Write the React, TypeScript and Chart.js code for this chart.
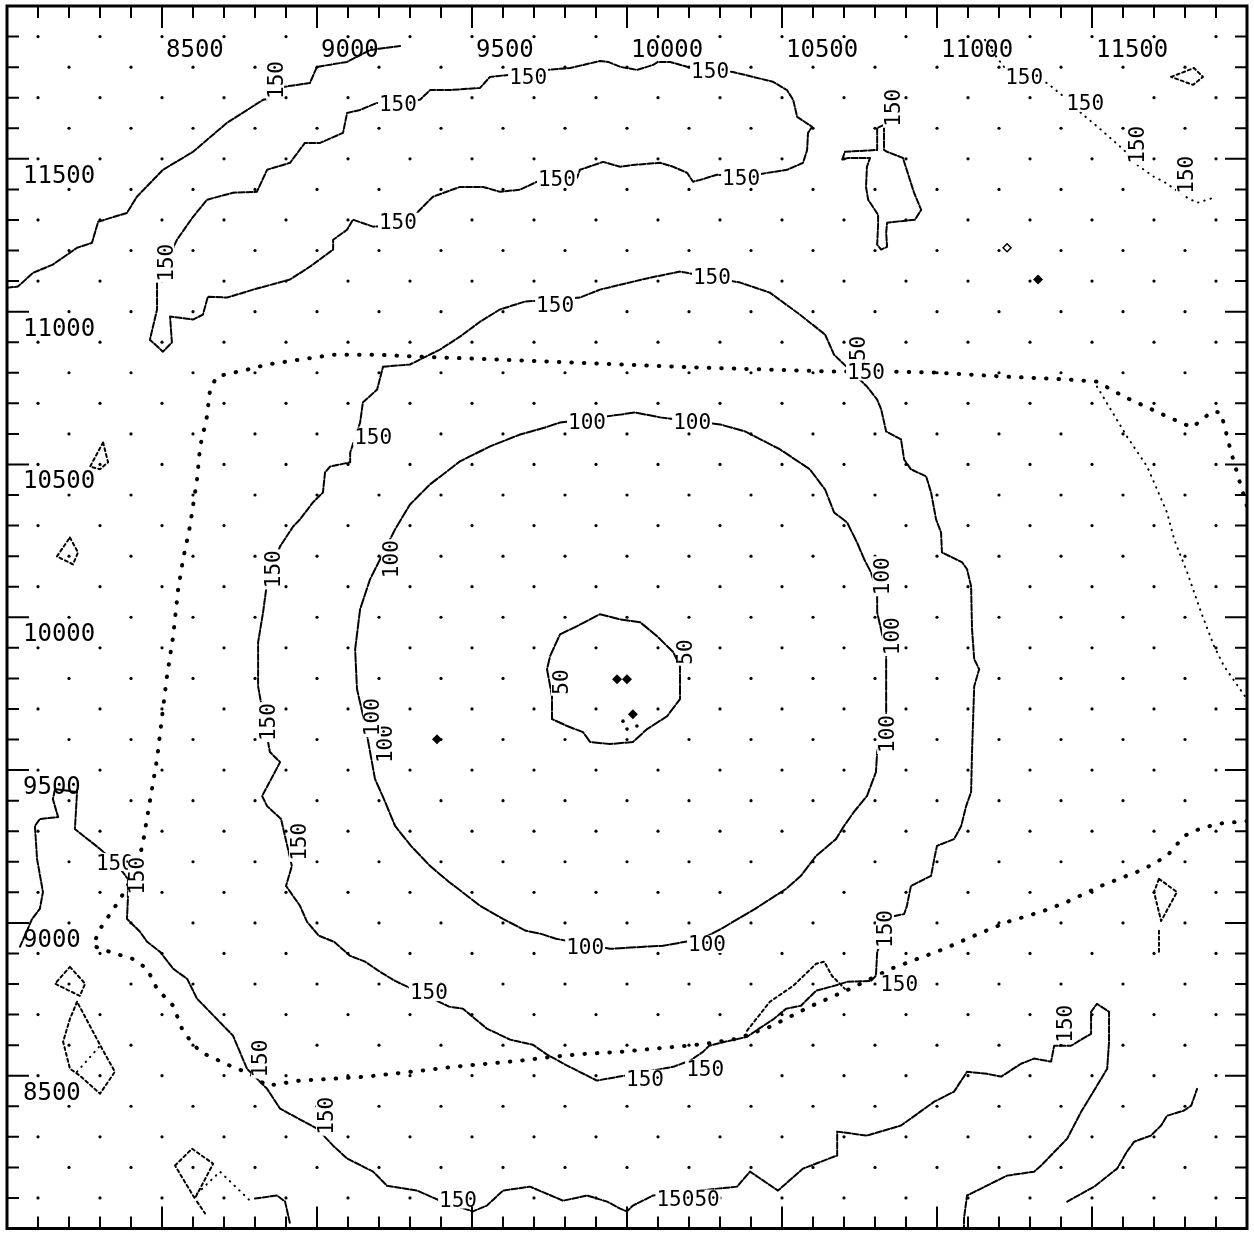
import React, { useEffect, useRef } from "react";
import { Chart, registerables } from "chart.js";

Chart.register(...registerables);

// ---------- axes ----------
const axisMin = 8000;
const axisMax = 12000;
const gridValues = [
  8100, 8200, 8300, 8400, 8500, 8600, 8700, 8800, 8900, 9000, 9100, 9200, 9300,
  9400, 9500, 9600, 9700, 9800, 9900, 10000, 10100, 10200, 10300, 10400, 10500,
  10600, 10700, 10800, 10900, 11000, 11100, 11200, 11300, 11400, 11500, 11600,
  11700, 11800, 11900,
];
const xTickLabels = [8500, 9000, 9500, 10000, 10500, 11000, 11500];
const yTickLabels = [11500, 11000, 10500, 10000, 9500, 9000, 8500];

// ---------- contour lines (x, y in axis units) ----------
const contour150NW = [
  [8000, 11078], [8035, 11082], [8084, 11127], [8148, 11154], [8226, 11209], [8274, 11225],
  [8294, 11294], [8387, 11323], [8419, 11376], [8503, 11464], [8600, 11523], [8710, 11618],
  [8826, 11693], [8858, 11699], [8890, 11735], [8977, 11748], [9000, 11801], [9097, 11817],
  [9171, 11856], [9268, 11869],
];
const contour150Ridge = [
  [8484, 11095], [8484, 11007], [8461, 10908], [8503, 10869], [8532, 10899], [8526, 10984],
  [8558, 10980], [8600, 10974], [8632, 10990], [8648, 11049], [8710, 11046], [8794, 11072],
  [8913, 11105], [8977, 11147], [9052, 11203], [9052, 11235], [9097, 11268], [9116, 11301],
  [9181, 11278], [9300, 11288], [9323, 11324], [9374, 11376], [9461, 11408], [9536, 11408],
  [9590, 11392], [9655, 11399], [9710, 11425], [9839, 11438], [9848, 11464], [9923, 11490],
  [9978, 11474], [10019, 11480], [10107, 11487], [10149, 11474], [10194, 11454], [10213, 11425],
  [10236, 11431], [10290, 11448], [10368, 11438], [10452, 11454], [10516, 11464], [10568, 11487],
  [10581, 11529], [10584, 11585], [10597, 11605], [10549, 11637], [10536, 11693], [10516, 11725],
  [10471, 11752], [10407, 11768], [10342, 11784], [10268, 11791], [10194, 11801], [10139, 11817],
  [10100, 11817], [10084, 11807], [10032, 11791], [9978, 11801], [9939, 11817], [9913, 11820],
  [9816, 11797], [9742, 11791], [9623, 11775], [9558, 11768], [9526, 11732], [9429, 11725],
  [9365, 11725], [9332, 11693], [9194, 11683], [9139, 11660], [9097, 11650], [9084, 11585],
  [9010, 11552], [8961, 11552], [8913, 11487], [8839, 11464], [8806, 11392], [8729, 11389],
  [8645, 11366], [8600, 11310], [8548, 11235], [8526, 11186], [8503, 11154], [8484, 11095],
];
const contour150NE = [
  [11155, 11889], [11194, 11830], [11216, 11801], [11355, 11748], [11410, 11703], [11465, 11650],
  [11529, 11595], [11603, 11529], [11636, 11487], [11700, 11441], [11732, 11425], [11807, 11373],
  [11839, 11356], [11894, 11373],
];
const contour150Tri = [[11755, 11768], [11829, 11797], [11858, 11768], [11826, 11742], [11755, 11768]];
const contour150Cross = [
  [10829, 11611], [10807, 11601], [10807, 11529], [10703, 11523], [10694, 11497], [10713, 11503],
  [10784, 11503], [10774, 11474], [10771, 11408], [10778, 11366], [10810, 11317], [10810, 11284],
  [10807, 11219], [10820, 11203], [10839, 11212], [10836, 11258], [10839, 11291], [10929, 11301],
  [10949, 11333], [10926, 11389], [10890, 11503], [10839, 11523], [10829, 11529], [10829, 11611],
];
const ring150 = [
  [9213, 10820], [9300, 10827], [9397, 10876], [9461, 10918], [9526, 10967], [9590, 11007],
  [9671, 11033], [9848, 11046], [9913, 11072], [9978, 11088], [10074, 11111], [10171, 11131],
  [10365, 11095], [10461, 11062], [10558, 10990], [10639, 10925], [10668, 10859], [10774, 10755],
  [10807, 10712], [10820, 10680], [10836, 10608], [10884, 10582], [10894, 10516], [10916, 10484],
  [10965, 10461], [10981, 10408], [10997, 10320], [11013, 10278], [11016, 10212], [11081, 10180],
  [11097, 10157], [11110, 10101], [11113, 9961], [11120, 9863], [11136, 9830], [11120, 9774],
  [11113, 9559], [11110, 9428], [11094, 9382], [11078, 9317], [11055, 9274], [11000, 9252],
  [10991, 9209], [10981, 9154], [10916, 9121], [10903, 9056], [10894, 9029], [10852, 9020],
  [10807, 8905], [10803, 8827], [10787, 8810], [10710, 8807], [10668, 8794], [10610, 8778],
  [10561, 8729], [10513, 8719], [10474, 8686], [10426, 8654], [10387, 8627], [10316, 8611],
  [10265, 8598], [10245, 8578], [10203, 8549], [10149, 8529], [9903, 8484], [9807, 8533],
  [9742, 8569], [9697, 8601], [9623, 8618], [9548, 8654], [9471, 8719], [9426, 8726],
  [9252, 8810], [9203, 8840], [9155, 8873], [9107, 8892], [9055, 8938], [9006, 8958],
  [8968, 9003], [8945, 9056], [8900, 9121], [8919, 9186], [8884, 9340], [8839, 9382],
  [8823, 9415], [8881, 9526], [8848, 9559], [8810, 9774], [8810, 9918], [8826, 10016],
  [8839, 10114], [8881, 10232], [8923, 10297], [8945, 10320], [8987, 10376], [9019, 10408],
  [9026, 10474], [9042, 10493], [9107, 10507], [9107, 10539], [9139, 10637], [9148, 10703],
  [9194, 10745], [9213, 10820],
];
const ring100 = [
  [9784, 10637], [9978, 10663], [10026, 10670], [10107, 10654], [10300, 10631], [10381, 10608],
  [10494, 10549], [10590, 10484], [10639, 10418], [10668, 10343], [10710, 10310], [10742, 10245],
  [10765, 10190], [10787, 10147], [10807, 10082], [10807, 10016], [10836, 9886], [10836, 9676],
  [10807, 9559], [10803, 9493], [10774, 9415], [10732, 9363], [10700, 9317], [10674, 9274],
  [10610, 9219], [10561, 9154], [10513, 9111], [10413, 9046], [10303, 8980], [10242, 8948],
  [10116, 8925], [10055, 8922], [9945, 8915], [9771, 8948], [9723, 8964], [9674, 8974],
  [9600, 9013], [9526, 9056], [9426, 9134], [9365, 9186], [9303, 9252], [9252, 9317],
  [9216, 9405], [9187, 9471], [9155, 9650], [9129, 9765], [9123, 9895], [9139, 10026],
  [9171, 10124], [9252, 10288], [9300, 10369], [9365, 10435], [9461, 10510], [9558, 10559],
  [9655, 10598], [9736, 10621], [9784, 10637],
];
const ring50 = [
  [9784, 9944], [9839, 9971], [9913, 10010], [9978, 9993], [10042, 9984], [10097, 9938],
  [10149, 9886], [10171, 9840], [10171, 9732], [10129, 9676], [10065, 9634], [10019, 9592],
  [9945, 9585], [9881, 9592], [9858, 9624], [9807, 9644], [9758, 9667], [9758, 9742],
  [9742, 9830], [9752, 9873], [9784, 9944],
];
const contour150South = [
  [8042, 8922], [8081, 9013], [8106, 9046], [8116, 9101], [8097, 9209], [8090, 9317],
  [8106, 9340], [8165, 9346], [8148, 9405], [8155, 9438], [8226, 9428], [8219, 9307],
  [8300, 9242], [8348, 9199], [8390, 9144], [8390, 9078], [8387, 9013], [8429, 8971],
  [8452, 8938], [8494, 8905], [8536, 8850], [8581, 8817], [8613, 8752], [8729, 8631],
  [8774, 8523], [8839, 8457], [8881, 8392], [9000, 8327], [9052, 8271], [9097, 8229],
  [9181, 8186], [9226, 8140], [9323, 8124], [9397, 8091], [9503, 8056], [9548, 8075],
  [9600, 8124], [9687, 8137], [9794, 8091], [9871, 8108], [9936, 8088], [9978, 8065],
  [10000, 8056], [10019, 8075], [10084, 8108], [10355, 8137], [10397, 8186], [10487, 8124],
  [10568, 8196], [10678, 8239], [10678, 8317], [10774, 8304], [10884, 8337], [10991, 8415],
  [11055, 8448], [11097, 8513], [11161, 8506], [11207, 8497], [11271, 8539], [11313, 8556],
  [11368, 8546], [11378, 8598], [11432, 8598], [11497, 8637], [11497, 8709], [11516, 8735],
  [11555, 8709], [11555, 8611], [11549, 8523], [11516, 8467], [11465, 8382], [11420, 8294],
  [11336, 8206], [11313, 8186], [11226, 8173], [11097, 8108], [11087, 8033], [11087, 8000],
];
const contour150SE = [
  [11420, 8088], [11507, 8137], [11581, 8196], [11613, 8252], [11636, 8284], [11690, 8304],
  [11723, 8337], [11742, 8369], [11797, 8386], [11820, 8402], [11839, 8457],
];
const contour150Hook = [[8800, 8098], [8871, 8108], [8897, 8088], [8913, 8016]];

// ---------- small closed cells ----------
const cellWestTri = [[8310, 10572], [8326, 10507], [8300, 10484], [8268, 10493], [8310, 10572]];
const cellWestDiamond = [[8203, 10261], [8229, 10212], [8213, 10173], [8161, 10199], [8203, 10261]];
const cellSW1 = [[8203, 8856], [8252, 8801], [8235, 8761], [8155, 8801], [8203, 8856]];
const cellSW2 = [
  [8226, 8742], [8203, 8686], [8181, 8611], [8203, 8523], [8235, 8500], [8300, 8441],
  [8348, 8513], [8310, 8582], [8226, 8742],
];
const cellSW2Inner = [[8226, 8513], [8300, 8598]];
const cellSquare = [[8542, 8206], [8597, 8261], [8665, 8212], [8606, 8098], [8542, 8206]];
const cellSquareInner = [[8613, 8114], [8687, 8186], [8784, 8091]];
const cellSquareStub = [[8613, 8088], [8639, 8049]];
const cellEastDrop = [[11716, 9144], [11774, 9101], [11723, 9006], [11700, 9101], [11716, 9144]];
const cellEastStub = [[11716, 8974], [11716, 8905]];

// ---------- survey boundary ----------
const boundaryMain = [
  [12000, 9333], [11903, 9324], [11829, 9301], [11797, 9284], [11742, 9219], [11668, 9176],
  [11529, 9121], [11420, 9069], [11336, 9036], [11226, 9003], [11120, 8958], [11023, 8915],
  [10852, 8850], [10719, 8784], [10590, 8726], [10461, 8660], [10355, 8621], [10258, 8605],
  [10194, 8598], [10084, 8588], [9978, 8578], [9871, 8572], [9761, 8562], [9655, 8549],
  [9548, 8539], [9439, 8529], [9332, 8516], [9161, 8497], [9052, 8490], [8945, 8484],
  [8839, 8467], [8784, 8506], [8719, 8533], [8623, 8578], [8568, 8644], [8536, 8729],
  [8484, 8784], [8452, 8850], [8406, 8882], [8332, 8905], [8277, 8925], [8300, 8980],
  [8365, 9078], [8419, 9176], [8439, 9265], [8455, 9363], [8484, 9536], [8503, 9699],
  [8516, 9807], [8536, 9938], [8552, 10091], [8568, 10190], [8590, 10297], [8613, 10451],
  [8623, 10559], [8645, 10657], [8655, 10745], [8677, 10788], [8774, 10810], [8839, 10827],
  [8945, 10843], [9052, 10859], [9194, 10859], [9323, 10853], [9590, 10843], [9913, 10830],
  [10236, 10817], [10668, 10804], [10829, 10804], [10991, 10801], [11207, 10788], [11420, 10778],
  [11516, 10771], [11603, 10722], [11742, 10657], [11823, 10621], [11887, 10673], [11916, 10670],
  [11949, 10539], [11974, 10451], [12000, 10363],
];
const boundaryNE = [
  [11516, 10755], [11613, 10591], [11678, 10493], [11742, 10343], [11765, 10255], [11807, 10147],
  [11852, 10016], [11894, 9905], [11926, 9840], [12000, 9732],
];
const boundarySouthSpur = [
  [10387, 8647], [10461, 8742], [10536, 8794], [10610, 8866], [10636, 8873], [10661, 8827],
  [10703, 8784],
];

// ---------- isolated marks ----------
const blobMarks = [[9968, 9797], [10000, 9797], [10019, 9683], [9387, 9601], [11326, 11105]];
const smallBlobMarks = [[11226, 11209]];
const speckMarks = [[9987, 9660], [10000, 9634], [10032, 9644]];

// ---------- contour labels: x, y, vertical(1)/horizontal(0), text ----------
const contourLabels: [number, number, number, string][] = [
  [8865, 11758, 1, "150"],
  [8510, 11160, 1, "150"], [9261, 11680, 0, "150"], [9681, 11768, 0, "150"], [10268, 11788, 0, "150"],
  [9261, 11294, 0, "150"], [9774, 11435, 0, "150"], [10368, 11438, 0, "150"],
  [11281, 11768, 0, "150"], [11478, 11683, 0, "150"], [11645, 11546, 1, "150"], [11800, 11448, 1, "150"],
  [10855, 11667, 1, "150"],
  [9768, 11023, 0, "150"], [10274, 11114, 0, "150"], [10745, 10859, 1, "150"], [10771, 10804, 0, "150"],
  [10832, 8980, 1, "150"], [10878, 8801, 0, "150"], [10058, 8490, 0, "150"], [10252, 8523, 0, "150"],
  [9361, 8774, 0, "150"], [8939, 9265, 1, "150"], [8839, 9657, 1, "150"], [8858, 10157, 1, "150"],
  [9181, 10591, 0, "150"],
  [8348, 9199, 0, "150"], [8419, 9154, 1, "150"], [8816, 8556, 1, "150"], [9026, 8369, 1, "150"],
  [9455, 8095, 0, "150"], [10197, 8098, 0, "15050"], [11410, 8670, 1, "150"],
  [9871, 10641, 0, "100"], [10210, 10641, 0, "100"], [10820, 10134, 1, "100"], [10852, 9938, 1, "100"],
  [10836, 9618, 1, "100"], [10258, 8931, 0, "100"], [9865, 8922, 0, "100"], [9219, 9585, 1, "100"],
  [9177, 9673, 1, "100"], [9236, 10190, 1, "100"],
  [10187, 9886, 1, "50"], [9784, 9788, 1, "50"],
];

// ---------- helpers ----------
const toXY = (pts: number[][]) => pts.map(([x, y]) => ({ x, y }));

const contourStyle = { borderWidth: 2, borderDash: [6, 2] };
const innerStyle = { borderWidth: 2, borderDash: [9, 2] };
const cellStyle = { borderWidth: 2, borderDash: [3, 3] };
const heavyDots = { borderWidth: 4, borderDash: [0.5, 12] };
const lightDots = { borderWidth: 2, borderDash: [0.5, 6] };

function lineSet(pts: number[][], style: { borderWidth: number; borderDash: number[] }) {
  return {
    data: toXY(pts),
    showLine: true,
    pointRadius: 0,
    borderColor: "#000",
    backgroundColor: "#000",
    borderWidth: style.borderWidth,
    borderDash: style.borderDash,
    borderCapStyle: "round" as const,
    borderJoinStyle: "round" as const,
    tension: 0,
    fill: false,
  };
}

function stationPoints() {
  const pts: { x: number; y: number }[] = [];
  for (const gx of gridValues) {
    for (const gy of gridValues) {
      if ((Math.round(gx / 100) + Math.round(gy / 100)) % 2 === 0) pts.push({ x: gx, y: gy });
    }
  }
  return pts;
}

const plotDecor = {
  id: "plotDecor",
  afterDatasetsDraw(chart: any) {
    const { ctx, chartArea: a, scales } = chart;
    const xs = scales.x;
    const ys = scales.y;
    ctx.save();

    // contour labels
    ctx.font = '21px "DejaVu Sans Mono"';
    ctx.textAlign = "center";
    ctx.textBaseline = "alphabetic";
    for (const [vx, vy, vert, text] of contourLabels) {
      const px = xs.getPixelForValue(vx);
      const py = ys.getPixelForValue(vy);
      ctx.save();
      ctx.translate(px, py);
      if (vert) ctx.rotate(-Math.PI / 2);
      const w = ctx.measureText(text).width;
      ctx.fillStyle = "#fff";
      ctx.fillRect(-w / 2 - 1, -9, w + 2, 18);
      ctx.fillStyle = "#000";
      ctx.fillText(text, 0, 7.5);
      ctx.restore();
    }

    // frame
    ctx.strokeStyle = "#000";
    ctx.lineWidth = 3;
    ctx.strokeRect(a.left, a.top, a.right - a.left, a.bottom - a.top);

    // inward ticks
    ctx.lineWidth = 2;
    ctx.beginPath();
    for (const v of gridValues) {
      const len = v % 500 === 0 ? 22 : 12;
      const px = xs.getPixelForValue(v);
      ctx.moveTo(px, a.top);
      ctx.lineTo(px, a.top + len);
      ctx.moveTo(px, a.bottom);
      ctx.lineTo(px, a.bottom - len);
      const py = ys.getPixelForValue(v);
      ctx.moveTo(a.left, py);
      ctx.lineTo(a.left + len, py);
      ctx.moveTo(a.right, py);
      ctx.lineTo(a.right - len, py);
    }
    ctx.stroke();

    // tick labels inside the frame
    ctx.fillStyle = "#000";
    ctx.font = '24px "DejaVu Sans Mono"';
    ctx.textAlign = "left";
    ctx.textBaseline = "alphabetic";
    for (const v of xTickLabels) {
      ctx.fillText(String(v), xs.getPixelForValue(v) + 4, a.top + 51);
    }
    for (const v of yTickLabels) {
      ctx.fillText(String(v), a.left + 16, ys.getPixelForValue(v) + 24);
    }
    ctx.restore();
  },
};

export default function App() {
  const ref = useRef<HTMLCanvasElement | null>(null);

  useEffect(() => {
    const canvas = ref.current;
    if (!canvas) return;
    const datasets: any[] = [
      lineSet(contour150NW, contourStyle),
      lineSet(contour150Ridge, contourStyle),
      lineSet(contour150NE, lightDots),
      lineSet(contour150Tri, cellStyle),
      lineSet(contour150Cross, contourStyle),
      lineSet(ring150, contourStyle),
      lineSet(ring100, innerStyle),
      lineSet(ring50, innerStyle),
      lineSet(contour150South, contourStyle),
      lineSet(contour150SE, contourStyle),
      lineSet(contour150Hook, contourStyle),
      lineSet(cellWestTri, cellStyle),
      lineSet(cellWestDiamond, cellStyle),
      lineSet(cellSW1, cellStyle),
      lineSet(cellSW2, cellStyle),
      lineSet(cellSW2Inner, lightDots),
      lineSet(cellSquare, cellStyle),
      lineSet(cellSquareInner, lightDots),
      lineSet(cellSquareStub, cellStyle),
      lineSet(cellEastDrop, cellStyle),
      lineSet(cellEastStub, cellStyle),
      lineSet(boundaryMain, heavyDots),
      lineSet(boundaryNE, lightDots),
      lineSet(boundarySouthSpur, cellStyle),
      {
        data: stationPoints(),
        showLine: false,
        pointRadius: 1.6,
        pointStyle: "circle",
        backgroundColor: "#000",
        borderWidth: 0,
      },
      {
        data: toXY(blobMarks),
        showLine: false,
        pointRadius: 5,
        pointStyle: "rectRot",
        backgroundColor: "#000",
        borderWidth: 0,
      },
      {
        data: toXY(smallBlobMarks),
        showLine: false,
        pointRadius: 4,
        pointStyle: "rectRot",
        backgroundColor: "#fff",
        borderColor: "#000",
        borderWidth: 1.5,
      },
      {
        data: toXY(speckMarks),
        showLine: false,
        pointRadius: 1.8,
        pointStyle: "circle",
        backgroundColor: "#000",
        borderWidth: 0,
      },
    ];
    const chart = new Chart(canvas, {
      type: "scatter",
      data: { datasets },
      options: {
        responsive: false,
        animation: false,
        devicePixelRatio: 1,
        layout: { padding: { left: 7, top: 6, right: 7, bottom: 3 } },
        plugins: { legend: { display: false }, tooltip: { enabled: false } },
        scales: {
          x: { type: "linear", min: axisMin, max: axisMax, display: false },
          y: { type: "linear", min: axisMin, max: axisMax, display: false },
        },
      },
      plugins: [plotDecor],
    });
    return () => chart.destroy();
  }, []);

  return (
    <div style={{ position: "absolute", left: 0, top: 0, width: 1254, height: 1234, background: "#fff" }}>
      <canvas ref={ref} width={1254} height={1234} style={{ display: "block", width: 1254, height: 1234 }} />
    </div>
  );
}
